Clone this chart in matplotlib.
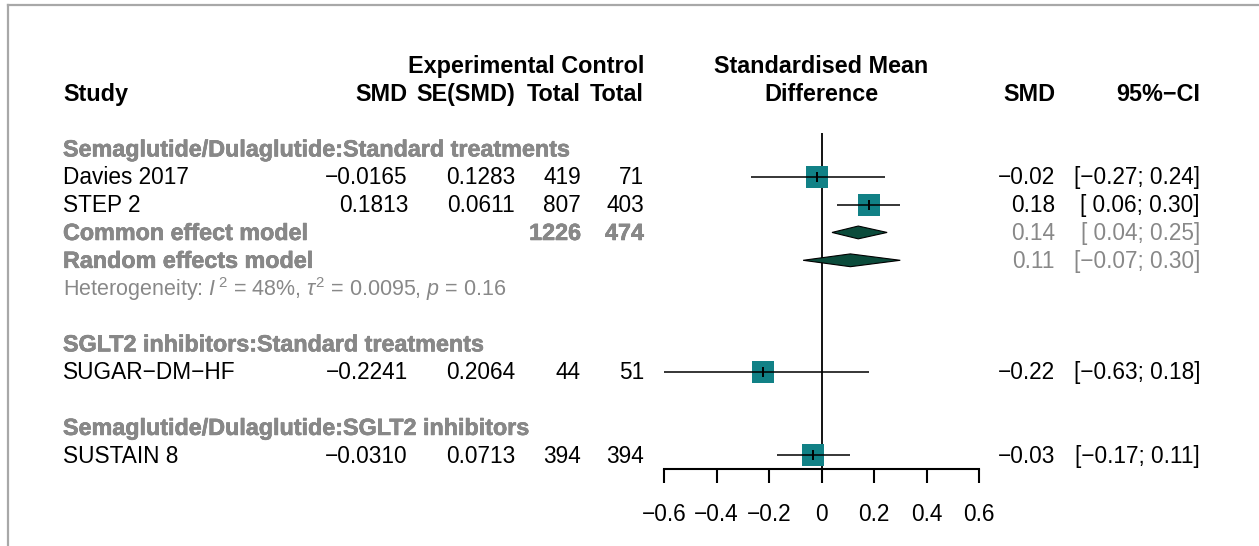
import matplotlib
matplotlib.use("Agg")
import matplotlib.pyplot as plt
import matplotlib.patheffects as pe
from matplotlib.lines import Line2D
from matplotlib.patches import Polygon
from matplotlib.transforms import blended_transform_factory

# study level data
studies = ["Davies 2017", "STEP 2", "SUGAR\u2212DM\u2212HF", "SUSTAIN 8"]
smd = [-0.0165, 0.1813, -0.2241, -0.0310]
se_smd = [0.1283, 0.0611, 0.2064, 0.0713]
n_exp = [419, 807, 44, 394]
n_ctrl = [71, 403, 51, 394]
ci_low = [-0.27, 0.06, -0.63, -0.17]
ci_high = [0.24, 0.30, 0.18, 0.11]
study_group = [0, 0, 1, 2]

groups = ["Semaglutide/Dulaglutide:Standard treatments",
          "SGLT2 inhibitors:Standard treatments",
          "Semaglutide/Dulaglutide:SGLT2 inhibitors"]

# pooled results (first subgroup only)
pooled_labels = ["Common effect model", "Random effects model"]
pooled_est = [0.14, 0.11]
pooled_low = [0.04, -0.07]
pooled_high = [0.25, 0.30]
pooled_n_exp = 1226
pooled_n_ctrl = 474
het_text = (r"Heterogeneity: $\mathit{I}^{\,2}$ = 48%, $\tau^{2}$ = 0.0095, "
            r"$\mathit{p}$ = 0.16")

xticks = [-0.6, -0.4, -0.2, 0, 0.2, 0.4, 0.6]
xtick_labels = ["\u22120.6", "\u22120.4", "\u22120.2", "0", "0.2", "0.4", "0.6"]

W, H = 1259, 546
ROW0, ROWH = 93.2, 27.85   # pixel y of header row and row height
GREY = "#888888"
SQUARE = "#118186"
DIAMOND = "#0b4b3b"

plt.rcParams['font.family'] = ['Liberation Sans', 'DejaVu Sans']
plt.rcParams['mathtext.fontset'] = 'custom'
plt.rcParams['mathtext.rm'] = 'Liberation Sans'
plt.rcParams['mathtext.it'] = 'Liberation Sans:italic'
plt.rcParams['mathtext.bf'] = 'Liberation Sans:bold'
FS = 16.3
FS_BOLD = 16.8
GREY_FX = [pe.withStroke(linewidth=0.4, foreground="#707070")]


def fmt(v, nd):
    s = "{:.{}f}".format(abs(v), nd)
    return ("\u2212" if v < 0 else "") + s


def fmt_ci(lo, hi):
    lo_s = fmt(lo, 2) if lo < 0 else " " + fmt(lo, 2)
    return "[{}; {}]".format(lo_s, fmt(hi, 2))


fig = plt.figure(figsize=(W / 100, H / 100), dpi=100)
ax = fig.add_axes([664 / W, 0, 315 / W, 1])
ax.set_xlim(-0.6, 0.6)
ax.set_ylim((H - ROW0) / ROWH, -ROW0 / ROWH)
ax.patch.set_alpha(0)

tr = blended_transform_factory(fig.transFigure, ax.transData)
BASE = 0.27  # baseline offset (rows)


def put(x_px, row, s, ha="left", color="black", weight="normal", size=None):
    if size is None:
        size = FS_BOLD if weight == "bold" else FS
    t = ax.text(x_px / W, row + BASE, s, transform=tr, ha=ha, va="baseline",
                fontsize=size, color=color, fontweight=weight)
    if color == GREY and weight == "bold":
        t.set_path_effects(GREY_FX)
    return t


# column right edges (pixels)
X_STUDY, X_SMD, X_SE, X_NE, X_NC = 63, 408, 515, 581, 644
X_RSMD, X_RCI = 1055, 1200

# headers
put(X_NC, -1, "Experimental Control", ha="right", weight="bold")
put(X_STUDY, 0, "Study", weight="bold")
put(X_SMD, 0, "SMD", ha="right", weight="bold")
put(X_SE, 0, "SE(SMD)", ha="right", weight="bold")
put(X_NE, 0, "Total", ha="right", weight="bold")
put(X_NC, 0, "Total", ha="right", weight="bold")
put(X_RSMD, 0, "SMD", ha="right", weight="bold")
put(X_RCI, 0, "95%\u2212CI", ha="right", weight="bold")
ax.text(0, -1 + BASE, "Standardised Mean", ha="center", va="baseline",
        fontsize=FS_BOLD, fontweight="bold")
ax.text(0, 0 + BASE, "Difference", ha="center", va="baseline",
        fontsize=FS_BOLD, fontweight="bold")

# assign rows
row = 2
study_rows = []
for g, gname in enumerate(groups):
    put(X_STUDY, row, gname, color=GREY, weight="bold")
    row += 1
    members = [i for i in range(len(studies)) if study_group[i] == g]
    for i in members:
        study_rows.append(row)
        row += 1
    if len(members) > 1:
        pooled_rows = [row, row + 1]
        het_row = row + 2
        row += 3
    row += 1

for i, r in enumerate(study_rows):
    put(X_STUDY, r, studies[i])
    put(X_SMD, r, fmt(smd[i], 4), ha="right")
    put(X_SE, r, fmt(se_smd[i], 4), ha="right")
    put(X_NE, r, str(n_exp[i]), ha="right")
    put(X_NC, r, str(n_ctrl[i]), ha="right")
    put(X_RSMD, r, fmt(smd[i], 2), ha="right")
    put(X_RCI, r, fmt_ci(ci_low[i], ci_high[i]), ha="right")
    ax.hlines(r, ci_low[i], ci_high[i], color="black", lw=1.1, zorder=3)
    ax.plot(smd[i], r, marker="s", ms=15.8, mew=0, color=SQUARE, zorder=2)
    ax.plot(smd[i], r, marker="|", ms=7, mew=1.4, color="black", zorder=4)

for k, r in enumerate(pooled_rows):
    put(X_STUDY, r, pooled_labels[k], color=GREY, weight="bold")
    put(X_RSMD, r, fmt(pooled_est[k], 2), ha="right", color=GREY)
    put(X_RCI, r, fmt_ci(pooled_low[k], pooled_high[k]), ha="right", color=GREY)
    h = 0.23
    ax.add_patch(Polygon([(pooled_low[k], r), (pooled_est[k], r - h),
                          (pooled_high[k], r), (pooled_est[k], r + h)],
                         closed=True, facecolor=DIAMOND, edgecolor="black",
                         lw=0.8, zorder=3))
put(X_NE, pooled_rows[0], str(pooled_n_exp), ha="right", color=GREY, weight="bold")
put(X_NC, pooled_rows[0], str(pooled_n_ctrl), ha="right", color=GREY, weight="bold")
put(X_STUDY, het_row, het_text, color=GREY, size=15.5)

# reference line and x axis
axis_row = study_rows[-1] + 0.5
ax.vlines(0, 1.43, axis_row, color="black", lw=1.3, zorder=1)
for side in ["left", "right", "top"]:
    ax.spines[side].set_visible(False)
ax.spines["bottom"].set_position(("data", axis_row))
ax.spines["bottom"].set_bounds(-0.6, 0.6)
ax.spines["bottom"].set_linewidth(1.5)
ax.set_xticks(xticks)
ax.set_xticklabels(xtick_labels)
ax.tick_params(axis="x", direction="out", length=10, width=1.5, pad=14,
               labelsize=FS)
ax.set_yticks([])

# frame remnants
fig.add_artist(Line2D([8 / W, 8 / W], [0, 1 - 5 / H], transform=fig.transFigure,
                      color="#a8a8a8", lw=1.6))
fig.add_artist(Line2D([8 / W, 1], [1 - 5 / H, 1 - 5 / H], transform=fig.transFigure,
                      color="#a8a8a8", lw=1.6))

fig.savefig("out.png", dpi=100)
